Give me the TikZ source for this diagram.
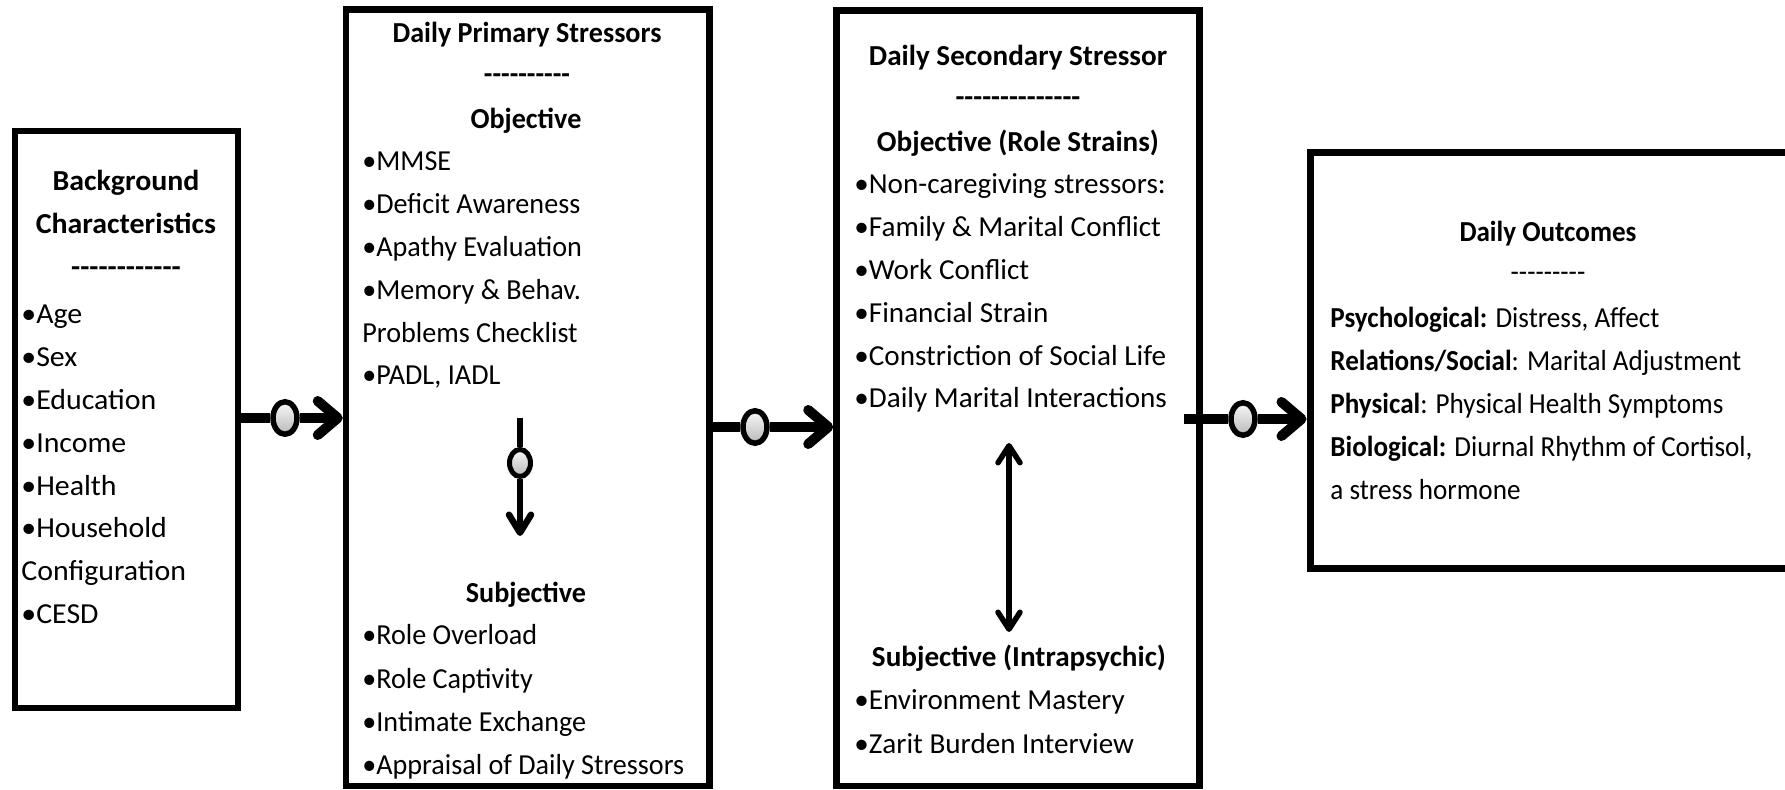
\documentclass[tikz,border=0pt]{standalone}
\usepackage{fontspec}
\setmainfont{Carlito}
\newfontfamily\fa[FakeStretch=1.03]{Carlito}
\newfontfamily\fb[FakeStretch=0.97]{Carlito}
\newfontfamily\fc[FakeStretch=1.005]{Carlito}
\newfontfamily\fd[FakeStretch=0.935]{Carlito}
\newcommand\Fa{\fa\fontsize{14.5}{16}\selectfont}
\newcommand\Fb{\fb\fontsize{14.5}{16}\selectfont}
\newcommand\Fc{\fc\fontsize{14.5}{16}\selectfont}
\newcommand\Fd{\fd\fontsize{14.5}{16}\selectfont}
\usetikzlibrary{arrows.meta,shapes.geometric}
\begin{document}
\begin{tikzpicture}[x=0.5pt,y=-0.5pt,
  box/.style={draw, line width=3pt, inner sep=0pt},
  itm/.style={anchor=base west, inner sep=0pt, font=#1},
  ttl/.style={anchor=base, inner sep=0pt, font=#1\bfseries},
  circ/.style={ellipse, draw, line width=2.75pt, minimum width=12pt, minimum height=16.25pt, inner sep=0pt, top color=gray!5, bottom color=gray!55},
  scirc/.style={ellipse, draw, line width=2.5pt, minimum width=10.5pt, minimum height=13.5pt, inner sep=0pt, top color=gray!5, bottom color=gray!55},
  link/.style={line width=5pt},
  conn/.style={line width=5pt, -{Straight Barb[length=10pt,width=17pt,round]}},
  vlink/.style={line width=3.25pt},
  vconn/.style={line width=3.25pt, -{Straight Barb[length=9pt,width=11pt,round]}},
  dconn/.style={line width=2.75pt, {Straight Barb[length=8.5pt,width=11pt,round]}-{Straight Barb[length=8.5pt,width=11pt,round]}}
]
\clip (0,0) rectangle (1785,790);
\fill[white] (0,0) rectangle (1785,790);

% boxes
\node[box, minimum width=111.75pt, minimum height=288.5pt] (b1) at (126.25,420) {};
\node[box, line width=3.25pt, minimum width=181.75pt, minimum height=388.25pt] (b2) at (527.75,397.75) {};
\node[box, line width=3.25pt, minimum width=181.5pt, minimum height=387.75pt] (b3) at (1018,398.25) {};
\node[box, line width=3.5pt, minimum width=242.5pt, minimum height=208pt] (b4) at (1552.5,361) {};

% box 1 text
\node[ttl=\Fa] (b1t1) at (126,191) {Background};
\node[ttl=\Fa] (b1t2) at (126,234) {Characteristics};
\node[ttl=\Fa] (b1d) at (126,277) {-{}-{}-{}-{}-{}-{}-{}-{}-{}-{}-{}-};
\foreach \t [count=\i] in {•Age,•Sex,•Education,•Income,•Health,•Household,Configuration,•CESD}
  \node[itm=\Fa] (b1i\i) at (21,{324+42.8*(\i-1)}) {\t};

% box 2 text
\node[ttl=\Fb] (b2t) at (527,43) {Daily Primary  Stressors};
\node[ttl=\Fb] (b2d) at (527,84) {-{}-{}-{}-{}-{}-{}-{}-{}-{}-};
\node[ttl=\Fb] (b2o) at (526,129) {Objective};
\foreach \t [count=\i] in {•MMSE,•Deficit Awareness,•Apathy Evaluation,•Memory \& Behav.,Problems Checklist,{•PADL, IADL}}
  \node[itm=\Fb] (b2i\i) at (362,{171+42.8*(\i-1)}) {\t};
\node[ttl=\Fb] (b2s) at (526,603) {Subjective};
\foreach \t [count=\i] in {•Role Overload,•Role Captivity,•Intimate Exchange,•Appraisal of Daily Stressors}
  \node[itm=\Fb] (b2j\i) at (362,{645+43.1*(\i-1)}) {\t};

% box 3 text
\node[ttl=\Fc] (b3t) at (1018,66) {Daily Secondary Stressor};
\node[ttl=\Fc] (b3d) at (1018,107) {-{}-{}-{}-{}-{}-{}-{}-{}-{}-{}-{}-{}-{}-};
\node[ttl=\Fc] (b3o) at (1018,152) {Objective (Role Strains)};
\foreach \t [count=\i] in {•Non-caregiving stressors:,•Family \& Marital Conflict,•Work Conflict,•Financial Strain,•Constriction of Social Life,•Daily Marital Interactions}
  \node[itm=\Fc] (b3i\i) at (854,{194+42.8*(\i-1)}) {\t};
\node[ttl=\Fc] (b3s) at (1019,667) {Subjective (Intrapsychic)};
\foreach \t [count=\i] in {•Environment Mastery,•Zarit Burden Interview}
  \node[itm=\Fc] (b3j\i) at (854,{710+43.2*(\i-1)}) {\t};

% box 4 text
\node[ttl=\Fd] (b4t) at (1548,242) {Daily Outcomes};
\node[itm=\Fd, anchor=base] (b4d) at (1548,282) {-{}-{}-{}-{}-{}-{}-{}-{}-};
\foreach \t [count=\i] in {{\textbf{Psychological:} Distress, Affect},{\textbf{Relations/Social}: Marital Adjustment},{\textbf{Physical}: Physical Health Symptoms},{\textbf{Biological:} Diurnal Rhythm of Cortisol,},{a stress hormone}}
  \node[itm=\Fd] (b4i\i) at (1330,{328+42.9*(\i-1)}) {\t};

% connectors between boxes
\node[circ] (c1) at (285,418) {};
\draw[link] (c1 -| b1.east) -- (c1.west);
\draw[conn] (c1.east) -- (c1 -| b2.west);

\node[circ] (c2) at (755,427) {};
\draw[link] (c2 -| b2.east) -- (c2.west);
\draw[conn] (c2.east) -- (c2 -| b3.west);

\coordinate (a3s) at (1184,419);
\node[circ] (c3) at (1243,419) {};
\draw[link] (a3s) -- (c3.west);
\draw[conn] (c3.east) -- (c3 -| b4.west);

% vertical arrow in box 2
\coordinate (v1s) at (520,418);
\node[scirc] (c4) at (520,463) {};
\coordinate (v1e) at (520,536);
\draw[vlink] (v1s) -- (c4.north);
\draw[vconn] (c4.south) -- (v1e);

% double arrow in box 3
\coordinate (d1) at (1009,443);
\coordinate (d2) at (1009,632);
\draw[dconn] (d1) -- (d2);
\end{tikzpicture}
\end{document}
